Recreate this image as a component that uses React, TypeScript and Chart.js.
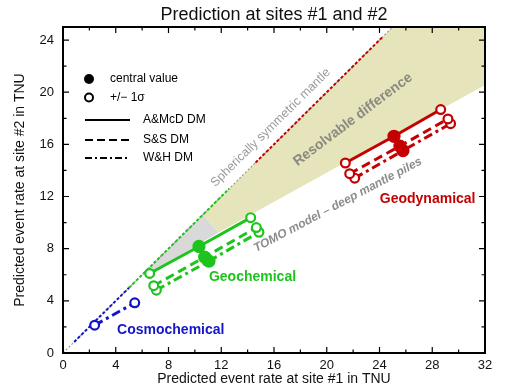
import React, { useEffect, useRef } from 'react';
import { Chart, registerables } from 'chart.js';

Chart.register(...registerables);

const FONT = '"Liberation Sans", Arial, Helvetica, sans-serif';

// axes
const xTickValues = [0, 4, 8, 12, 16, 20, 24, 28, 32];
const yTickValues = [0, 4, 8, 12, 16, 20, 24];
const X_MAX = 32;
const Y_MAX = 25;

// reference line (spherically symmetric mantle) and coloured stretches on it
const diagonal = [{ x: 0, y: 0 }, { x: 25, y: 25 }];
const cosmoDiag = [{ x: 0.85, y: 0.85 }, { x: 5.0, y: 5.0 }];
const geochemDiag = [{ x: 5.0, y: 5.0 }, { x: 12.6, y: 12.6 }];
const geodynDiag = [{ x: 14.6, y: 14.6 }, { x: 24.3, y: 24.3 }];

// shaded regions
const resolvableUpper = [{ x: 10.6, y: 10.6 }, { x: 25, y: 25 }, { x: 32, y: 25 }];
const resolvableLower = [{ x: 10.6, y: 10.6 }, { x: 11.8, y: 9.25 }, { x: 32, y: 20.55 }];
const grayUpper = [{ x: 6.3, y: 6.3 }, { x: 10.6, y: 10.6 }, { x: 11.8, y: 9.25 }];
const grayLower = [{ x: 6.3, y: 6.3 }, { x: 6.57, y: 6.1 }, { x: 11.8, y: 9.25 }];

// predictions: [low (-1σ), central, high (+1σ)]
const cosmoWH = [{ x: 2.4, y: 2.13 }, { x: 5.44, y: 3.85 }];
const geochemAMcD = [{ x: 6.57, y: 6.1 }, { x: 10.31, y: 8.17 }, { x: 14.23, y: 10.38 }];
const geochemSS = [{ x: 6.88, y: 5.16 }, { x: 10.74, y: 7.35 }, { x: 14.66, y: 9.62 }];
const geochemWH = [{ x: 7.08, y: 4.82 }, { x: 11.07, y: 7.05 }, { x: 14.86, y: 9.26 }];
const geodynAMcD = [{ x: 21.41, y: 14.57 }, { x: 25.1, y: 16.62 }, { x: 28.64, y: 18.67 }];
const geodynSS = [{ x: 21.74, y: 13.75 }, { x: 25.55, y: 15.87 }, { x: 29.19, y: 17.95 }];
const geodynWH = [{ x: 22.12, y: 13.41 }, { x: 25.78, y: 15.52 }, { x: 29.39, y: 17.59 }];

const BLUE = '#1414c8';
const GREEN = '#1ec41e';
const RED = '#c40000';
const KHAKI = '#e6e4ba';
const GRAY = '#d9d9d9';

const SOLID: number[] = [];
const DASHED = [9, 5];
const DASHDOT = [9, 4, 3, 4];

function series(data: any[], color: string, dash: number[], order: number) {
  const n = data.length;
  const radius = data.map((_, i) => (n === 3 && i === 1 ? 5.5 : 4.4));
  const bg = data.map((_, i) => (n === 3 && i === 1 ? color : '#ffffff'));
  return {
    data,
    borderColor: color,
    borderWidth: 3,
    borderDash: dash,
    pointRadius: radius,
    pointBackgroundColor: bg,
    pointBorderColor: color,
    pointBorderWidth: 2.2,
    fill: false,
    order,
  };
}

const decor = {
  id: 'decor',
  afterDatasetsDraw(chart: any) {
    const { ctx } = chart;
    const xs = chart.scales.x;
    const ys = chart.scales.y;
    const P = (x: number, y: number) => [xs.getPixelForValue(x), ys.getPixelForValue(y)];
    const diagAngle = Math.atan2(ys.getPixelForValue(10) - ys.getPixelForValue(0), xs.getPixelForValue(10) - xs.getPixelForValue(0));
    const texts: [string, number, number, number, string, string][] = [
      ['Spherically symmetric mantle', 15.75, 17.28, diagAngle, '12.5px ' + FONT, '#9a9a9a'],
      ['Resolvable difference', 21.99, 17.9, (-37 * Math.PI) / 180, 'bold 14px ' + FONT, '#8a8a80'],
      ['TOMO model \u2013 deep mantle piles', 20.85, 11.36, (-28 * Math.PI) / 180, 'italic bold 12px ' + FONT, '#8c8c8c'],
      ['Cosmochemical', 8.17, 1.75, 0, 'bold 14px ' + FONT, BLUE],
      ['Geochemical', 14.37, 5.8, 0, 'bold 14px ' + FONT, GREEN],
      ['Geodynamical', 27.65, 11.82, 0, 'bold 14px ' + FONT, RED],
    ];
    ctx.save();
    for (const [t, x, y, a, f, c] of texts) {
      const [px, py] = P(x, y);
      ctx.save();
      ctx.translate(px, py);
      ctx.rotate(a);
      ctx.font = f;
      ctx.fillStyle = c;
      ctx.textAlign = 'center';
      ctx.textBaseline = 'middle';
      ctx.fillText(t, 0, 0);
      ctx.restore();
    }
    ctx.restore();
  },
  afterDraw(chart: any) {
    const { ctx, chartArea: a } = chart;
    const xs = chart.scales.x;
    const ys = chart.scales.y;
    ctx.save();
    // ticks inside on all sides
    ctx.strokeStyle = '#000';
    ctx.lineWidth = 1.2;
    ctx.beginPath();
    for (let v = 0; v <= X_MAX; v += 2) {
      const px = xs.getPixelForValue(v);
      const len = v % 4 === 0 ? 6 : 3.5;
      ctx.moveTo(px, a.bottom);
      ctx.lineTo(px, a.bottom - len);
      ctx.moveTo(px, a.top);
      ctx.lineTo(px, a.top + len);
    }
    for (let v = 0; v <= Y_MAX; v += 2) {
      const py = ys.getPixelForValue(v);
      const len = v % 4 === 0 ? 6 : 3.5;
      ctx.moveTo(a.left, py);
      ctx.lineTo(a.left + len, py);
      ctx.moveTo(a.right, py);
      ctx.lineTo(a.right - len, py);
    }
    ctx.stroke();
    // frame
    ctx.lineWidth = 2;
    ctx.strokeRect(a.left, a.top, a.right - a.left, a.bottom - a.top);

    // title
    ctx.fillStyle = '#111';
    ctx.font = '18px ' + FONT;
    ctx.textAlign = 'center';
    ctx.textBaseline = 'middle';
    ctx.fillText('Prediction at sites #1 and #2', (a.left + a.right) / 2, 15);

    // legend
    const lx = a.left;
    const ty = a.top;
    ctx.textAlign = 'left';
    ctx.font = '12px ' + FONT;
    ctx.fillStyle = '#000';
    ctx.beginPath();
    ctx.arc(lx + 26, ty + 52, 5, 0, Math.PI * 2);
    ctx.fill();
    ctx.fillText('central value', lx + 47, ty + 51.5);
    ctx.beginPath();
    ctx.lineWidth = 2;
    ctx.arc(lx + 26, ty + 70.5, 4, 0, Math.PI * 2);
    ctx.stroke();
    ctx.fillText('+/\u2212 1\u03c3', lx + 47, ty + 70.5);
    const lines: [number[], string, number][] = [
      [SOLID, 'A&McD DM', 93],
      [[8, 4], 'S&S DM', 113],
      [[7, 3, 2, 3], 'W&H DM', 131],
    ];
    for (const [d, t, y] of lines) {
      ctx.setLineDash(d);
      ctx.beginPath();
      ctx.moveTo(lx + 22, ty + y);
      ctx.lineTo(lx + 67, ty + y);
      ctx.stroke();
      ctx.setLineDash([]);
      ctx.fillText(t, lx + 80, ty + y);
    }
    ctx.restore();
  },
};

export default function App() {
  const ref = useRef<HTMLCanvasElement>(null);
  useEffect(() => {
    document.body.style.margin = '0';
    Chart.defaults.font.family = FONT;
    const chart = new Chart(ref.current as HTMLCanvasElement, {
      type: 'line',
      data: {
        datasets: [
          series(geodynAMcD, RED, SOLID, 1),
          series(geodynSS, RED, DASHED, 2),
          series(geodynWH, RED, DASHDOT, 3),
          series(geochemAMcD, GREEN, SOLID, 1),
          series(geochemSS, GREEN, DASHED, 2),
          series(geochemWH, GREEN, DASHDOT, 3),
          series(cosmoWH, BLUE, DASHDOT, 3),
          { data: cosmoDiag, borderColor: BLUE, borderWidth: 2, borderDash: [3, 2], pointRadius: 0, fill: false, order: 6 },
          { data: geochemDiag, borderColor: GREEN, borderWidth: 2, borderDash: [3, 2], pointRadius: 0, fill: false, order: 6 },
          { data: geodynDiag, borderColor: RED, borderWidth: 2, borderDash: [3, 2], pointRadius: 0, fill: false, order: 6 },
          { data: diagonal, borderColor: '#9a9a9a', borderWidth: 1.2, borderDash: [2, 2], pointRadius: 0, fill: false, order: 7 },
          { data: resolvableUpper, borderWidth: 0, borderColor: 'rgba(0,0,0,0)', backgroundColor: KHAKI, pointRadius: 0, fill: '+1', order: 10 },
          { data: resolvableLower, borderWidth: 0, borderColor: 'rgba(0,0,0,0)', pointRadius: 0, fill: false, order: 11 },
          { data: grayUpper, borderWidth: 0, borderColor: 'rgba(0,0,0,0)', backgroundColor: GRAY, pointRadius: 0, fill: '+1', order: 10 },
          { data: grayLower, borderWidth: 0, borderColor: 'rgba(0,0,0,0)', pointRadius: 0, fill: false, order: 11 },
        ] as any,
      },
      options: {
        animation: false,
        responsive: true,
        maintainAspectRatio: false,
        layout: { padding: { top: 27, right: 31, bottom: 0, left: 0 } },
        elements: { line: { tension: 0 } },
        plugins: { legend: { display: false }, tooltip: { enabled: false }, title: { display: false } },
        scales: {
          x: {
            type: 'linear',
            min: 0,
            max: X_MAX,
            afterBuildTicks: (s: any) => {
              s.ticks = xTickValues.map((v) => ({ value: v }));
            },
            afterFit: (s: any) => {
              s.height = 36;
            },
            ticks: { font: { size: 13 }, color: '#111', padding: 5, maxRotation: 0, autoSkip: false },
            grid: { display: false, drawTicks: false, tickLength: 0 },
            border: { display: false },
            title: { display: true, text: 'Predicted event rate at site #1 in TNU', font: { size: 14 }, color: '#111', padding: { top: 0, bottom: 1 } },
          },
          y: {
            type: 'linear',
            min: 0,
            max: Y_MAX,
            afterBuildTicks: (s: any) => {
              s.ticks = yTickValues.map((v) => ({ value: v }));
            },
            afterFit: (s: any) => {
              s.width = 63;
            },
            ticks: { font: { size: 13 }, color: '#111', padding: 9, autoSkip: false },
            grid: { display: false, drawTicks: false, tickLength: 0 },
            border: { display: false },
            title: { display: true, text: 'Predicted event rate at site #2 in TNU', font: { size: 14 }, color: '#111', padding: { top: 12, bottom: 0 } },
          },
        },
      } as any,
      plugins: [decor],
    });
    return () => chart.destroy();
  }, []);
  return (
    <div style={{ width: 516, height: 389, position: 'relative' }}>
      <canvas ref={ref} />
    </div>
  );
}
